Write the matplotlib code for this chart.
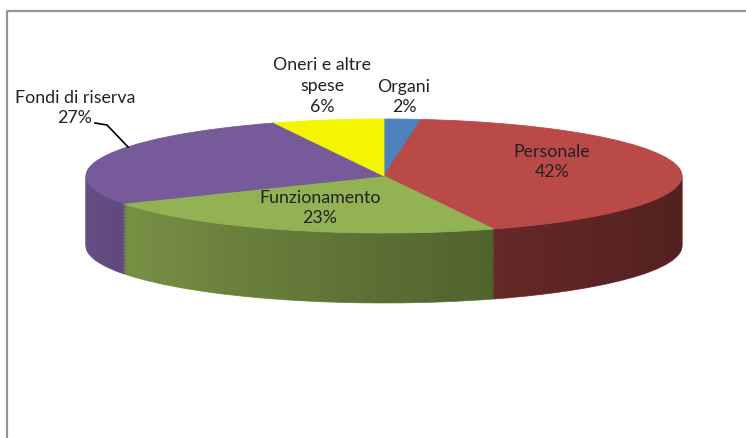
import numpy as np
import matplotlib.pyplot as plt
from matplotlib.path import Path
from matplotlib.patches import PathPatch
from matplotlib.colors import to_rgb

# dati del grafico
categorie = ["Organi", "Personale", "Funzionamento", "Fondi di riserva", "Oneri e altre spese"]
quote = [2, 42, 23, 27, 6]
etichette = ["Organi\n2%", "Personale\n42%", "Funzionamento\n23%",
             "Fondi di riserva\n27%", "Oneri e altre\nspese\n6%"]
colori = ["#4F81BD", "#B94A48", "#92B254", "#775A99", "#F5F500"]
# --------------------------------------------------------------

W, H = 746, 439            # dimensioni in pixel
cx, cy = 384, 177          # centro della torta (pixel)
rx, ry = 298, 57           # semiassi dell'ellisse
spessore = 70              # altezza del bordo laterale

fig = plt.figure(figsize=(W / 100, H / 100), dpi=100)
ax = fig.add_axes([0, 0, 1, 1])

# bordo laterale: torte impilate spostate verso il basso
dz = spessore / ry
n = 50
colori_lato = [tuple(np.array(to_rgb(c)) * 0.86) for c in colori]
for k in range(n, 0, -1):
  wedges, _ = ax.pie(quote, colors=colori_lato, startangle=90, counterclock=False,
                     center=(0, -dz * k / n), radius=1)
  for w, c in zip(wedges, colori_lato):
    w.set_edgecolor(c)
    w.set_linewidth(0.6)

# sfumatura scura sul bordo (da sinistra a destra)
t = np.linspace(np.pi, 2 * np.pi, 300)
bordo_sup = np.column_stack([np.cos(t), np.sin(t)])
bordo_inf = np.column_stack([np.cos(t[::-1]), np.sin(t[::-1]) - dz])
verts = np.vstack([bordo_sup, bordo_inf, bordo_sup[:1]])
clip = PathPatch(Path(verts), transform=ax.transData, facecolor="none", edgecolor="none")
ax.add_patch(clip)
rgba = np.zeros((1, 256, 4))
rgba[..., 3] = 0.48 * np.linspace(0, 1, 256) ** 0.8
im = ax.imshow(rgba, extent=(-1, 1, -1 - dz, 0), aspect="auto", zorder=1.5)
im.set_clip_path(clip)

# faccia superiore
wedges, _ = ax.pie(quote, colors=colori, startangle=90, counterclock=False,
                   center=(0, 0), radius=1)
for w, c in zip(wedges, colori):
  w.set_edgecolor(c)
  w.set_linewidth(0.6)
  w.set_zorder(2)

ax.set_aspect("auto")
ax.set_xlim(-cx / rx, (W - cx) / rx)
ax.set_ylim(-(H - cy) / ry, cy / ry)
ax.axis("off")

# livello in pixel per cornice ed etichette
ov = fig.add_axes([0, 0, 1, 1])
ov.set_xlim(0, W)
ov.set_ylim(H, 0)
ov.axis("off")
ov.plot([7, 7, W], [H, 12, 12], color="#939393", linewidth=1.6)

pos_etichette = [(404, 97), (552, 162), (320, 208), (75, 108), (322, 86)]
for testo, (x, y) in zip(etichette, pos_etichette):
  ov.text(x, y, testo, ha="center", va="center", fontsize=12.8, family="Lato",
          color="#222222", linespacing=1.38, zorder=5)

# linea di richiamo per "Fondi di riserva"
ov.plot([95, 107, 128], [124, 126, 148], color="black", linewidth=1.2)

fig.savefig("out.png", dpi=100)
